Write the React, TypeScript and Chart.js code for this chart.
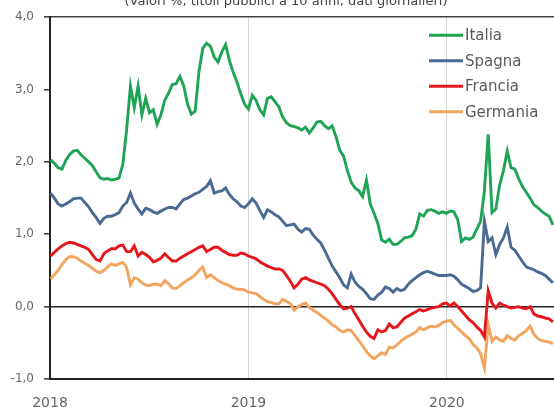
import { useEffect, useRef } from 'react';
import { Chart, registerables } from 'chart.js';

Chart.register(...registerables);

const TITLE = '(Valori %, titoli pubblici a 10 anni, dati giornalieri)';
const SERIES_NAMES = ['Italia', 'Spagna', 'Francia', 'Germania'];
const COLORS = ['#1fa455', '#4b6a93', '#e3171c', '#f3a45f'];
const YEAR_TICKS = [0, 365, 730];
const YEAR_LABELS = ['2018', '2019', '2020'];
// weekly observation dates, as days from 1 Jan 2018
const DAYS = Array.from({ length: 133 }, (_, i) => 1 + 7 * i);

const ITALIA = [
  2.03, 1.98, 1.92, 1.90, 2.02, 2.10, 2.15, 2.16, 2.10, 2.05,
  2.00, 1.95, 1.86, 1.78, 1.76, 1.77, 1.75, 1.76, 1.78, 1.97,
  2.45, 3.05, 2.75, 3.05, 2.65, 2.88, 2.68, 2.72, 2.52, 2.65,
  2.85, 2.95, 3.07, 3.08, 3.18, 3.05, 2.80, 2.66, 2.70, 3.25,
  3.57, 3.64, 3.60, 3.45, 3.38, 3.52, 3.62, 3.40, 3.24, 3.10,
  2.94, 2.80, 2.73, 2.92, 2.85, 2.72, 2.65, 2.88, 2.90, 2.83,
  2.76, 2.62, 2.54, 2.50, 2.49, 2.47, 2.44, 2.48, 2.40, 2.47,
  2.55, 2.56, 2.50, 2.46, 2.50, 2.35, 2.16, 2.08, 1.88, 1.72,
  1.64, 1.60, 1.52, 1.75, 1.42, 1.29, 1.15, 0.92, 0.89, 0.93,
  0.86, 0.86, 0.90, 0.95, 0.96, 0.98, 1.07, 1.28, 1.25, 1.33,
  1.34, 1.32, 1.29, 1.31, 1.29, 1.32, 1.31, 1.20, 0.90, 0.95,
  0.93, 0.96, 1.07, 1.18, 1.60, 2.38, 1.30, 1.35, 1.68, 1.88,
  2.15, 1.92, 1.90, 1.77, 1.66, 1.58, 1.50, 1.41, 1.37, 1.32,
  1.28, 1.25, 1.13,
];

const SPAGNA = [
  1.57, 1.50, 1.42, 1.39, 1.42, 1.45, 1.49, 1.50, 1.50, 1.44,
  1.38, 1.30, 1.23, 1.15, 1.22, 1.25, 1.25, 1.27, 1.30, 1.39,
  1.44, 1.57, 1.43, 1.35, 1.28, 1.36, 1.34, 1.31, 1.29, 1.32,
  1.35, 1.37, 1.37, 1.35, 1.42, 1.48, 1.50, 1.53, 1.56, 1.58,
  1.62, 1.66, 1.74, 1.57, 1.59, 1.60, 1.64, 1.55, 1.49, 1.45,
  1.39, 1.37, 1.42, 1.49, 1.43, 1.33, 1.23, 1.34, 1.31, 1.27,
  1.24, 1.18, 1.12, 1.13, 1.14, 1.07, 1.03, 1.08, 1.07, 0.99,
  0.93, 0.88, 0.78, 0.67, 0.56, 0.48, 0.40, 0.30, 0.26, 0.45,
  0.34, 0.28, 0.24, 0.18, 0.11, 0.10, 0.16, 0.20, 0.27, 0.25,
  0.20, 0.25, 0.22, 0.24, 0.31, 0.36, 0.40, 0.44, 0.47, 0.49,
  0.47, 0.45, 0.43, 0.43, 0.43, 0.44, 0.42, 0.37, 0.31, 0.28,
  0.25, 0.21, 0.22, 0.26, 1.18, 0.90, 0.95, 0.72, 0.86, 0.95,
  1.10, 0.82, 0.78, 0.70, 0.62, 0.55, 0.53, 0.51, 0.48, 0.46,
  0.43, 0.38, 0.33,
];

const FRANCIA = [
  0.70, 0.75, 0.80, 0.84, 0.87, 0.89, 0.88, 0.86, 0.84, 0.82,
  0.79, 0.72, 0.65, 0.63, 0.73, 0.77, 0.80, 0.80, 0.84, 0.85,
  0.76, 0.76, 0.84, 0.70, 0.75, 0.72, 0.68, 0.62, 0.64, 0.67,
  0.73, 0.68, 0.63, 0.63, 0.67, 0.70, 0.73, 0.76, 0.79, 0.82,
  0.84, 0.76, 0.79, 0.82, 0.82, 0.78, 0.75, 0.72, 0.71, 0.71,
  0.74, 0.73, 0.70, 0.68, 0.66, 0.62, 0.59, 0.56, 0.54, 0.52,
  0.52, 0.50, 0.43, 0.35, 0.26, 0.31, 0.38, 0.40, 0.37, 0.35,
  0.33, 0.31, 0.29, 0.24, 0.18, 0.10, 0.03, -0.03, -0.02, 0.00,
  -0.10, -0.18, -0.27, -0.35, -0.41, -0.44, -0.32, -0.35, -0.33, -0.24,
  -0.29, -0.28, -0.22, -0.16, -0.13, -0.10, -0.07, -0.04, -0.06, -0.04,
  -0.02, -0.01, 0.00, 0.04, 0.05, 0.01, 0.05, 0.00, -0.06, -0.12,
  -0.18, -0.22, -0.28, -0.33, -0.42, 0.22, 0.05, -0.02, 0.05, 0.02,
  0.00, -0.02, -0.01, 0.00, -0.02, -0.03, 0.00, -0.10, -0.13, -0.14,
  -0.16, -0.17, -0.21,
];

const GERMANIA = [
  0.38, 0.44, 0.50, 0.58, 0.65, 0.69, 0.69, 0.67, 0.63, 0.60,
  0.57, 0.53, 0.49, 0.47, 0.50, 0.55, 0.59, 0.57, 0.59, 0.61,
  0.54, 0.30, 0.40, 0.38, 0.33, 0.30, 0.29, 0.31, 0.31, 0.29,
  0.36, 0.32, 0.26, 0.25, 0.29, 0.33, 0.37, 0.40, 0.44, 0.50,
  0.55, 0.40, 0.44, 0.40, 0.36, 0.33, 0.31, 0.29, 0.26, 0.24,
  0.24, 0.23, 0.20, 0.19, 0.18, 0.14, 0.10, 0.07, 0.06, 0.04,
  0.04, 0.10, 0.07, 0.04, -0.05, 0.00, 0.03, 0.05, -0.01, -0.05,
  -0.08, -0.12, -0.16, -0.20, -0.25, -0.28, -0.33, -0.35, -0.32, -0.33,
  -0.40, -0.47, -0.54, -0.62, -0.68, -0.72, -0.68, -0.64, -0.66, -0.56,
  -0.57, -0.53, -0.48, -0.44, -0.41, -0.38, -0.35, -0.29, -0.32, -0.29,
  -0.27, -0.28, -0.26, -0.22, -0.20, -0.19, -0.25, -0.30, -0.35, -0.40,
  -0.44, -0.52, -0.57, -0.65, -0.85, -0.25, -0.48, -0.42, -0.46, -0.48,
  -0.40, -0.44, -0.46, -0.40, -0.37, -0.33, -0.27, -0.38, -0.44, -0.47,
  -0.48, -0.49, -0.51,
];

const SERIES = [ITALIA, SPAGNA, FRANCIA, GERMANIA];

const FONT = 'DejaVu Sans';

const titlePlugin = {
  id: 'cutTitle',
  afterDraw(chart: any) {
    const ctx = chart.ctx;
    ctx.save();
    ctx.font = `13px ${FONT}`;
    ctx.fillStyle = '#444';
    ctx.textAlign = 'center';
    ctx.textBaseline = 'alphabetic';
    ctx.fillText(TITLE, chart.width / 2 + 9, 5);
    ctx.restore();
  },
};

const legendPlugin = {
  id: 'insideLegend',
  afterDraw(chart: any) {
    const ctx = chart.ctx;
    const area = chart.chartArea;
    const x0 = area.right - 125;
    ctx.save();
    ctx.font = `15px ${FONT}`;
    ctx.textBaseline = 'middle';
    ctx.textAlign = 'left';
    chart.data.datasets.forEach((ds: any, i: number) => {
      const y = area.top + 18 + i * 25.5;
      ctx.strokeStyle = ds.borderColor;
      ctx.lineWidth = 3;
      ctx.beginPath();
      ctx.moveTo(x0, y);
      ctx.lineTo(x0 + 34, y);
      ctx.stroke();
      ctx.fillStyle = '#5a5a5a';
      ctx.fillText(ds.label, x0 + 36, y + 1);
    });
    ctx.restore();
  },
};

export default function App() {
  const ref = useRef<HTMLCanvasElement>(null);

  useEffect(() => {
    if (!ref.current) return;
    const chart = new Chart(ref.current, {
      type: 'line',
      data: {
        labels: DAYS,
        datasets: SERIES_NAMES.map((name, i) => ({
          label: name,
          data: SERIES[i],
          borderColor: COLORS[i],
          backgroundColor: COLORS[i],
          borderWidth: 2.9,
          pointRadius: 0,
          tension: 0,
          fill: false,
        })),
      },
      options: {
        animation: false,
        responsive: false,
        devicePixelRatio: 1,
        layout: { padding: { top: 15, left: 0, right: 0, bottom: 0 } },
        plugins: {
          legend: { display: false },
          tooltip: { enabled: false },
          title: { display: false },
        },
        scales: {
          x: {
            type: 'linear',
            min: 0,
            max: 927,
            afterBuildTicks: (s: any) => {
              s.ticks = YEAR_TICKS.map((v) => ({ value: v }));
            },
            afterFit: (s: any) => {
              s.height = 31;
            },
            ticks: {
              autoSkip: false,
              maxRotation: 0,
              padding: 16,
              color: '#666',
              font: { family: FONT, size: 14 },
              callback: (_v: any, i: number) => YEAR_LABELS[i],
            },
            grid: {
              drawTicks: false,
              lineWidth: 1,
              color: (c: any) =>
                c.tick && c.tick.value !== YEAR_TICKS[0] ? '#d2d2d2' : 'rgba(0,0,0,0)',
            },
            border: { color: '#222', width: 2 },
          },
          y: {
            min: -1,
            max: 4,
            afterFit: (s: any) => {
              s.width = 50;
            },
            ticks: {
              stepSize: 1,
              padding: 10,
              color: '#666',
              font: { family: FONT, size: 12 },
              callback: (v: any) => Number(v).toFixed(1).replace('.', ','),
            },
            grid: {
              tickLength: 6,
              tickColor: '#444',
              lineWidth: 1.6,
              color: (c: any) => {
                if (!c.tick) return 'rgba(0,0,0,0)';
                if (c.tick.value === 0) return '#222';
                if (c.tick.value === 4) return '#444';
                return 'rgba(0,0,0,0)';
              },
            },
            border: { color: '#222', width: 2 },
          },
        },
      },
      plugins: [titlePlugin, legendPlugin],
    });
    return () => chart.destroy();
  }, []);

  return (
    <div style={{ position: 'absolute', left: 0, top: 0, width: 554, height: 410, background: '#fff' }}>
      <canvas ref={ref} width={554} height={410} style={{ display: 'block', width: 554, height: 410 }} />
    </div>
  );
}
